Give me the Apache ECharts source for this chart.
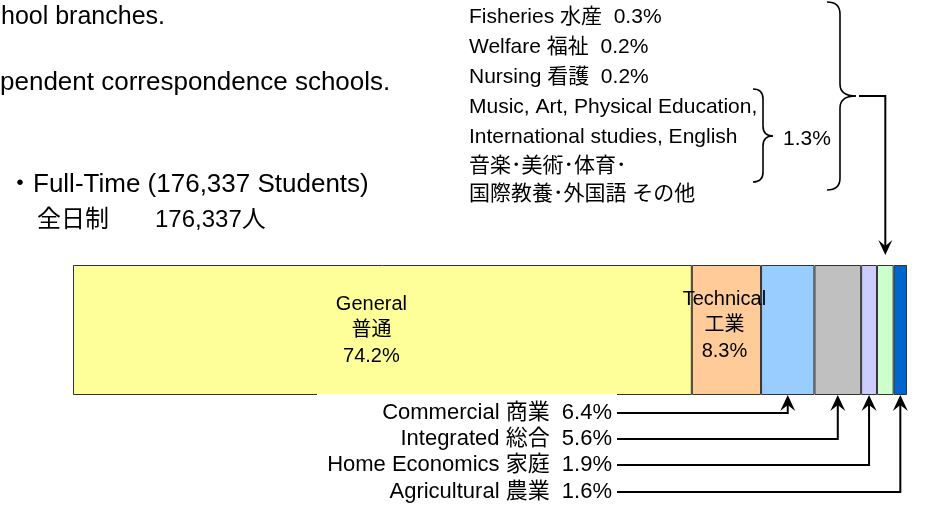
<!DOCTYPE html>
<html><head><meta charset="utf-8">
<script src="https://cdn.jsdelivr.net/npm/echarts@6/dist/echarts.min.js"></script>
<style>html,body{margin:0;padding:0;background:#fff}#c{width:927px;height:508px}</style>
</head><body><div id="c"></div>
<script>
// ---- data ----
const categories = ['General', 'Technical', 'Commercial', 'Integrated', 'Home Economics', 'Other', 'Agricultural'];
const categoriesJa = ['普通', '工業', '商業', '総合', '家庭', 'その他', '農業'];
const shares = [74.2, 8.3, 6.4, 5.6, 1.9, 2.0, 1.6];
const otherItems = ['Fisheries 水産', 'Welfare 福祉', 'Nursing 看護'];
const otherShares = [0.3, 0.2, 0.2];
const otherRestLines = ['Music, Art, Physical Education,', 'International studies, English', '音楽･美術･体育･', '国際教養･外国語 その他'];
const otherRestShare = 1.3;
const calloutOrder = [2, 3, 4, 6]; // indexes labelled below the bar
const segColors = ['#FFFF99', '#FFCC99', '#99CCFF', '#C0C0C0', '#CCCCFF', '#CCFFCC', '#0066CC'];

const F = "'Liberation Sans','Noto Sans CJK JP',sans-serif";
const GRID = {left: 73, right: 20, top: 265, height: 130};

const chart = echarts.init(document.getElementById('c'), null, {renderer: 'canvas'});

const series = shares.map((v, i) => ({
  type: 'bar', stack: 'all', name: categories[i], data: [v],
  barWidth: '100%',
  itemStyle: {color: segColors[i], borderColor: '#333', borderWidth: 1},
  label: i < 2 ? {
    show: true, position: 'inside', color: '#000', fontFamily: F, fontSize: 20, lineHeight: 26,
    offset: i === 0 ? [-11, 0] : [-2, -5],
    formatter: () => `${categories[i]}\n${categoriesJa[i]}\n${v.toFixed(1)}%`
  } : {show: false},
  emphasis: {disabled: true}, silent: true, animation: false
}));

chart.setOption({
  animation: false,
  grid: GRID,
  xAxis: {type: 'value', min: 0, max: 100, show: false},
  yAxis: {type: 'category', data: ['Full-Time'], show: false},
  series
});

// ---- annotations ----
const cum = [];
shares.reduce((a, v, i) => { cum[i] = a + v; return a + v; }, 0);
const px = v => chart.convertToPixel({xAxisIndex: 0}, v);
const centerX = i => (px(cum[i] - shares[i]) + px(cum[i])) / 2;
const barTop = GRID.top, barBot = GRID.top + GRID.height;

const g = [];
function txt(x, y, text, size, align) {
  g.push({type: 'text', x, y, z: 100, style: {text, fill: '#000', font: `${size}px ${F}`,
    align: align || 'left', textAlign: align || 'left', verticalAlign: 'middle', textVerticalAlign: 'middle'}});
}
function line(points, w) {
  g.push({type: 'polyline', z: 100, shape: {points}, style: {stroke: '#000', lineWidth: w || 2, fill: null}});
}
function curve(x1, y1, cx, cy, x2, y2) {
  g.push({type: 'bezierCurve', z: 100, shape: {x1, y1, x2, y2, cpx1: cx, cpy1: cy}, style: {stroke: '#000', lineWidth: 1.6, fill: null}});
}
function arrowUp(x, y) {
  g.push({type: 'polygon', z: 101, shape: {points: [[x, y], [x - 7.5, y + 16], [x, y + 10], [x + 7.5, y + 16]]}, style: {fill: '#000'}});
}
function arrowDown(x, y) {
  g.push({type: 'polygon', z: 101, shape: {points: [[x, y], [x - 7, y - 15], [x, y - 9], [x + 7, y - 15]]}, style: {fill: '#000'}});
}
function brace(x0, xv, xt, y0, ym, y1, r) {
  curve(x0, y0, xv, y0, xv, y0 + r);
  g.push({type: 'line', z: 100, shape: {x1: xv, y1: y0 + r, x2: xv, y2: ym - r}, style: {stroke: '#000', lineWidth: 1.6}});
  curve(xv, ym - r, xv, ym, xt, ym);
  curve(xt, ym, xv, ym, xv, ym + r);
  g.push({type: 'line', z: 100, shape: {x1: xv, y1: ym + r, x2: xv, y2: y1 - r}, style: {stroke: '#000', lineWidth: 1.6}});
  curve(xv, y1 - r, xv, y1, x0, y1);
}

// white box behind callout labels (covers part of the bar's lower edge)
g.push({type: 'rect', z: 99, shape: {x: 317, y: barBot - 1, width: 300, height: 6}, style: {fill: '#fff'}});

// top-left text
txt(1, 17, 'hool branches.', 25);
txt(0, 83, 'pendent correspondence schools.', 26);
txt(7, 185, '・Full-Time (176,337 Students)', 26);
txt(37, 220, '全日制', 24);
txt(155, 220, '176,337人', 24);

// top-right breakdown of "other"
const listY = [17, 47, 77, 107, 137, 166, 194];
otherItems.forEach((t, k) => txt(469, listY[k], `${t}  ${otherShares[k].toFixed(1)}%`, 21));
otherRestLines.forEach((t, k) => txt(469, listY[3 + k], t, 21));
brace(753, 763, 773, 89, 136, 182, 10);
txt(783, 139, `${otherRestShare.toFixed(1)}%`, 21);
brace(827, 840, 856, 2, 96, 190, 12);
const xo = centerX(5);
line([[859, 96], [xo, 96], [xo, 248]]);
arrowDown(xo, 255);

// bottom callouts
const calloutY = [413, 439, 465, 492];
calloutOrder.forEach((i, k) => {
  const y = calloutY[k];
  txt(612, y, `${categories[i]} ${categoriesJa[i]}  ${shares[i].toFixed(1)}%`, 22, 'right');
  const cx = centerX(i);
  line([[617, y], [cx, y], [cx, barBot + 6]]);
  arrowUp(cx, barBot);
});

chart.setOption({graphic: {elements: g}});
</script></body></html>
